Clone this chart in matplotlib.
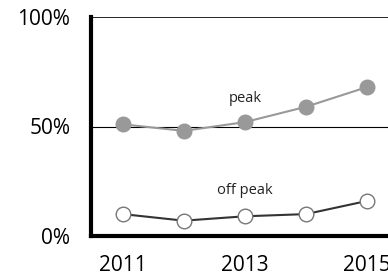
import matplotlib
matplotlib.use('Agg')
import matplotlib.pyplot as plt

plt.rcParams['font.family'] = ['Open Sans', 'DejaVu Sans']

# Data
years = [2011, 2012, 2013, 2014, 2015]
peak = [51, 48, 52, 59, 68]
off_peak = [10, 7, 9, 10, 16]
xtick_years = [2011, 2013, 2015]
ytick_vals = [0, 50, 100]
ytick_labels = ['0%', '50%', '100%']

fig = plt.figure(figsize=(3.88, 2.77), dpi=100)
# axes extends past the right edge like the original crop
ax = fig.add_axes([91 / 388, (277 - 236) / 277, 320 / 388, 219 / 277])

ax.plot(years, peak, color='#999999', linewidth=1.5, marker='o', markersize=10.5,
        markerfacecolor='#999999', markeredgecolor='#999999', zorder=3)
ax.plot(years, off_peak, color='#333333', linewidth=1.5, marker='o', markersize=10.5,
        markerfacecolor='white', markeredgecolor='#777777', markeredgewidth=1, zorder=3)

# thin reference lines at 50% and 100%
ax.axhline(50, color='black', linewidth=0.8, zorder=1)
ax.axhline(100, color='black', linewidth=1.2, zorder=1)

ax.text(2013, 63, 'peak', ha='center', va='center', fontsize=10.5, color='#222222')
ax.text(2013.0, 21, 'off peak', ha='center', va='center', fontsize=10.5, color='#222222')

ax.set_xlim(2010.48, 2015.72)
ax.set_ylim(0, 100)
ax.set_xticks(xtick_years)
ax.set_xticklabels([str(y) for y in xtick_years], fontsize=15)
ax.set_yticks(ytick_vals)
ax.set_yticklabels(ytick_labels, fontsize=15)
ax.tick_params(length=0)
ax.tick_params(axis='y', pad=15)
ax.tick_params(axis='x', pad=14)

for side in ['top', 'right']:
    ax.spines[side].set_visible(False)
ax.spines['left'].set_linewidth(3)
ax.spines['bottom'].set_linewidth(3)

fig.savefig('out.png', dpi=100)
